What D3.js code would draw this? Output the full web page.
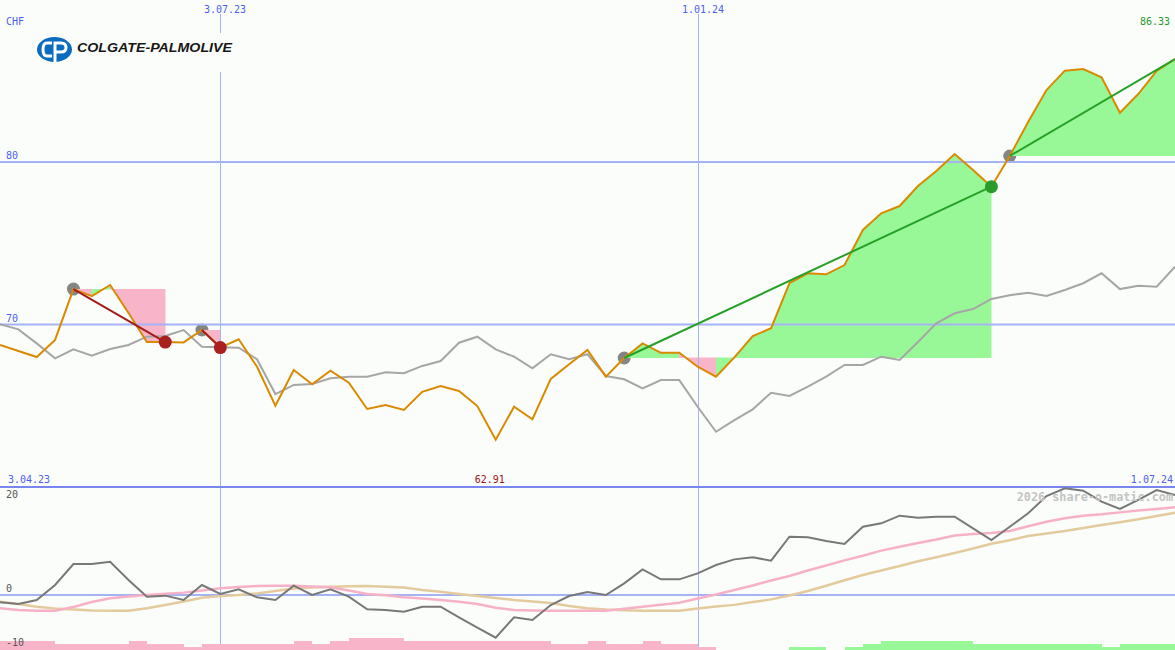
<!DOCTYPE html>
<html><head><meta charset="utf-8">
<script src="https://cdn.jsdelivr.net/npm/d3@7"></script>
<style>html,body{margin:0;padding:0;background:#fbfdfb;overflow:hidden}svg{display:block}</style>
</head><body>
<svg id="c" width="1175" height="650"></svg>
<script>
// ---------- data ----------
const firstWeek = "2023-04-10";
const price = [68.74, 68.37, 68.0, 69.05, 72.18, 71.75, 72.43, 70.71, 68.92, 68.92,
  68.90, 69.66, 68.58, 69.09, 67.40, 65.0, 67.2, 66.32, 67.16, 66.42,
  64.8, 65.05, 64.74, 65.86, 66.22, 65.91, 64.98, 62.91, 64.94, 64.17,
  66.65, 67.55, 68.43, 66.79, 67.94, 68.84, 68.26, 68.26, 67.40, 66.79,
  67.98, 69.29, 69.77, 72.54, 73.15, 73.09, 73.66, 75.82, 76.84, 77.29,
  78.52, 79.45, 80.49, 79.51, 78.48, 80.37, 82.46, 84.43, 85.62, 85.72,
  85.21, 83.03, 84.18, 85.6, 86.33];
const benchmark = [70.01, 69.70, 68.84, 67.92, 68.47, 68.08, 68.49, 68.74, 69.25, 69.29,
  69.66, 68.63, 68.60, 68.57, 67.86, 65.72, 66.28, 66.34, 66.69, 66.79,
  66.79, 67.06, 67.00, 67.45, 67.75, 68.88, 69.25, 68.47, 68.02, 67.30,
  68.17, 67.86, 68.17, 66.83, 66.63, 66.07, 66.58, 66.58, 64.94, 63.40,
  64.12, 64.78, 65.80, 65.60, 66.17, 66.79, 67.51, 67.51, 68.02, 67.82,
  68.92, 70.07, 70.69, 70.95, 71.57, 71.80, 71.96, 71.75, 72.12, 72.54,
  73.15, 72.18, 72.39, 72.33, 73.56];
const momentum = [-1.35, -1.67, -0.93, 1.85, 5.74, 5.74, 6.17, 2.78, -0.31, -0.12,
  -0.93, 1.85, 0.19, 1.05, -0.43, -0.93, 1.72, 0.0, 1.05, -0.31,
  -2.65, -2.78, -3.09, -2.16, -2.16, -4.13, -6.05, -7.9, -4.13, -4.63,
  -1.85, -0.19, 0.56, 0.0, 2.16, 4.75, 2.9, 2.9, 4.01, 5.56,
  6.6, 6.98, 6.36, 10.8, 10.68, 10.0, 9.44, 12.65, 13.27, 14.69,
  14.32, 14.5, 14.5, 12.35, 10.19, 12.65, 15.12, 18.33, 19.75, 19.32,
  17.28, 15.93, 17.6, 19.44, 18.52];
const avgFast = [-2.46, -2.78, -2.91, -2.91, -2.22, -1.30, -0.61, -0.28, 0.0, 0.22,
  0.44, 0.83, 1.24, 1.48, 1.67, 1.70, 1.72, 1.57, 1.43, 0.83,
  0.19, -0.06, -0.41, -0.65, -0.93, -1.24, -1.67, -2.37, -2.78, -2.87,
  -2.91, -2.91, -2.91, -2.91, -2.56, -2.17, -1.80, -1.43, -0.65, 0.09,
  0.93, 1.76, 2.69, 3.52, 4.54, 5.46, 6.41, 7.28, 8.22, 8.93,
  9.63, 10.28, 11.02, 11.28, 11.5, 11.85, 12.74, 13.56, 14.2, 14.69,
  14.94, 15.3, 15.65, 15.93, 16.24];
const avgSlow = [-1.24, -1.67, -2.19, -2.5, -2.69, -2.87, -2.91, -2.91, -2.46, -1.85,
  -1.2, -0.52, -0.19, 0.0, 0.28, 0.74, 1.2, 1.39, 1.54, 1.61,
  1.67, 1.52, 1.39, 0.93, 0.59, 0.19, -0.19, -0.56, -0.93, -1.2,
  -1.48, -2.04, -2.46, -2.69, -2.83, -2.91, -2.91, -2.91, -2.52, -2.15,
  -1.83, -1.31, -0.81, -0.09, 0.74, 1.72, 2.72, 3.7, 4.54, 5.37,
  6.24, 6.98, 7.78, 8.61, 9.48, 10.13, 10.93, 11.39, 11.85, 12.41,
  12.96, 13.46, 14.02, 14.63, 15.24];
// weekly signal strength, one value per week interval
const signal = [-3, -3, -3, -2, -2, -2, -2, -3, -2, -2,
  -1, -2, -2, -2, -2, -2, -3, -2, -3, -4,
  -4, -4, -3, -3, -3, -3, -3, -3, -3, -3,
  -2, -2, -3, -2, -2, -3, -2, -2, -1, 0,
  0, 0, 0, 1, 1, 0, 1, 2, 3, 3,
  3, 3, 3, 2, 2, 2, 2, 2, 2, 2,
  1, 2, 2, 2];
const tradeEntry = [4, 11, 34, 55];
const tradeExit = [9, 12, 54, 64];
const tradeOpen = [false, false, false, true];
const priceTicks = [80, 70];
const oscTicks = [20, 0, -10];
const dateTicks = ["2023-07-03", "2024-01-01"];
const dateTickLabels = ["3.07.23", "1.01.24"];
const rangeLabels = ["3.04.23", "1.07.24"];
const currency = "CHF";
const companyName = "COLGATE-PALMOLIVE";
const watermark = "2026 share-o-matic.com";

// ---------- setup ----------
const W = 1175, H = 650;
const svg = d3.select("#c");
const parse = d3.timeParse("%Y-%m-%d");
const start = parse(firstWeek);
const dates = price.map((_, i) => d3.timeDay.offset(start, 7 * i));
const x = d3.scaleTime().domain([dates[0], dates[dates.length - 1]]).range([0, W]);
const yP = d3.scaleLinear().domain([70, 80]).range([324.5, 162]);
const yO = d3.scaleLinear().domain([-10, 20]).range([649, 487]);
const yB = d3.scaleLinear().domain([0, 4]).range([650, 637.7]);

const C = {
  bg: "#fbfdfb", grid: "#a4b3f3", sep: "#7886ee", vline: "#a4b3f3",
  blue: "#4c5ff0", orange: "#d98a00", bench: "#a6a6a6", mom: "#787878",
  fast: "#f7b1c7", slow: "#e4cb9e", green: "#98f898", pink: "#f8b5ca",
  red: "#a41c1c", tgreen: "#27a027", dot: "#858585"
};
const mono = "'DejaVu Sans Mono', 'Liberation Mono', monospace";

svg.append("rect").attr("width", W).attr("height", H).attr("fill", C.bg);

// entry dots (below fills)
const gDots0 = svg.append("g");
tradeEntry.forEach(e => {
  gDots0.append("circle").attr("cx", x(dates[e])).attr("cy", yP(price[e])).attr("r", 6.5).attr("fill", C.dot);
});

// trade fills
const gFill = svg.append("g").attr("shape-rendering", "crispEdges");
tradeEntry.forEach((e, t) => {
  const lvl = price[e];
  for (let s = e; s < tradeExit[t]; s++) {
    const pts = [[x(dates[s]), yP(lvl)], [x(dates[s]), yP(price[s])],
                 [x(dates[s + 1]), yP(price[s + 1])], [x(dates[s + 1]), yP(lvl)]];
    const col = price[s + 1] >= lvl ? C.green : C.pink;
    gFill.append("path").attr("d", d3.line()(pts) + "Z")
      .attr("fill", col).attr("stroke", col).attr("stroke-width", 0.5);
  }
});

// grid
const gGrid = svg.append("g");
priceTicks.forEach(v => {
  gGrid.append("line").attr("x1", 0).attr("x2", W).attr("y1", yP(v)).attr("y2", yP(v)).attr("stroke", C.grid).attr("stroke-width", 2);
});
gGrid.append("line").attr("x1", 0).attr("x2", W).attr("y1", yO(0)).attr("y2", yO(0)).attr("stroke", C.grid).attr("stroke-width", 2);
dateTicks.forEach(d => {
  const xx = Math.round(x(parse(d))) + 0.5;
  gGrid.append("line").attr("x1", xx).attr("x2", xx).attr("y1", 14).attr("y2", H).attr("stroke", C.vline).attr("stroke-width", 1);
});
gGrid.append("line").attr("x1", 0).attr("x2", W).attr("y1", yO(20)).attr("y2", yO(20)).attr("stroke", C.sep).attr("stroke-width", 2);

// signal bars
const gBars = svg.append("g").attr("shape-rendering", "crispEdges");
signal.forEach((v, s) => {
  if (v === 0) return;
  const x0 = x(dates[s]), x1 = x(dates[s + 1]);
  gBars.append("rect").attr("x", x0).attr("width", x1 - x0)
    .attr("y", yB(Math.abs(v))).attr("height", yB(0) - yB(Math.abs(v)))
    .attr("fill", v < 0 ? C.pink : C.green);
});

// oscillator lines
const lineO = arr => d3.line().x((d, i) => x(dates[i])).y(d => yO(d))(arr);
svg.append("path").attr("d", lineO(avgSlow)).attr("fill", "none").attr("stroke", C.slow).attr("stroke-width", 2.5);
svg.append("path").attr("d", lineO(avgFast)).attr("fill", "none").attr("stroke", C.fast).attr("stroke-width", 2.5);
svg.append("path").attr("d", lineO(momentum)).attr("fill", "none").attr("stroke", C.mom).attr("stroke-width", 2);

// price panel lines
const lineP = arr => d3.line().x((d, i) => x(dates[i])).y(d => yP(d))(arr);
svg.append("path").attr("d", lineP(benchmark)).attr("fill", "none").attr("stroke", C.bench).attr("stroke-width", 2);
svg.append("path").attr("d", lineP(price)).attr("fill", "none").attr("stroke", C.orange).attr("stroke-width", 2);

// trade lines and exit dots
tradeEntry.forEach((e, t) => {
  const xE = tradeExit[t];
  const win = price[xE] >= price[e];
  svg.append("line").attr("x1", x(dates[e])).attr("y1", yP(price[e]))
    .attr("x2", x(dates[xE])).attr("y2", yP(price[xE]))
    .attr("stroke", win ? C.tgreen : C.red).attr("stroke-width", 2);
  if (!tradeOpen[t]) {
    svg.append("circle").attr("cx", x(dates[xE])).attr("cy", yP(price[xE])).attr("r", 6.5)
      .attr("fill", win ? "#2a9c2a" : "#a82020");
  }
});

// ---------- text ----------
const txt = (s, xx, yy, fill, anchor, extra) => {
  const t = svg.append("text").attr("x", xx).attr("y", yy).text(s)
    .attr("fill", fill).attr("font-family", mono).attr("font-size", 10)
    .attr("text-anchor", anchor || "start");
  if (extra) extra(t);
  return t;
};
txt(currency, 6, 25, C.blue);
priceTicks.forEach(v => txt(String(v), 6, yP(v) - 3, C.blue));
dateTicks.forEach((d, i) => txt(dateTickLabels[i], Math.round(x(parse(d))) - 16, 13, C.blue));
const maxI = d3.maxIndex(price), minI = d3.minIndex(price);
txt(d3.format(".2f")(price[maxI]), 1170, 25, "#2a9a2a", "end");
txt(d3.format(".2f")(price[minI]), x(dates[minI]) - 6, 483, "#a01414", "middle");
txt(rangeLabels[0], 8, 483, C.blue);
txt(rangeLabels[1], 1173, 483, C.blue, "end");
oscTicks.forEach(v => txt(String(v), 6, Math.max(yO(v) - 3, yO(20) + 11), "#555"));
txt(watermark, 1173, 501, "#c4c4c4", "end", t => t.attr("font-size", 11.8).attr("font-weight", "bold"));

// ---------- logo ----------
const logo = svg.append("g");
logo.append("rect").attr("x", 32).attr("y", 33).attr("width", 203).attr("height", 39).attr("fill", C.bg);
logo.append("ellipse").attr("cx", 54.5).attr("cy", 49.5).attr("rx", 17.5).attr("ry", 12.5).attr("fill", "#0b6bbf");
logo.append("path").attr("d", "M52,43 L47,43 Q43,43 43,49.5 Q43,56 47,56 L52,56").attr("fill", "none").attr("stroke", "#fff").attr("stroke-width", 3);
logo.append("path").attr("d", "M55,62 L55,43 L61,43 Q66,43 66,47.5 Q66,52 61,52 L55,52").attr("fill", "none").attr("stroke", "#fff").attr("stroke-width", 3);
logo.append("text").attr("x", 77).attr("y", 51.5).text(companyName)
  .attr("font-family", "'Liberation Sans', Arial, sans-serif").attr("font-weight", "bold").attr("font-style", "italic")
  .attr("font-size", 13).attr("fill", "#161616").attr("textLength", 155).attr("lengthAdjust", "spacingAndGlyphs");
</script>
</body></html>
